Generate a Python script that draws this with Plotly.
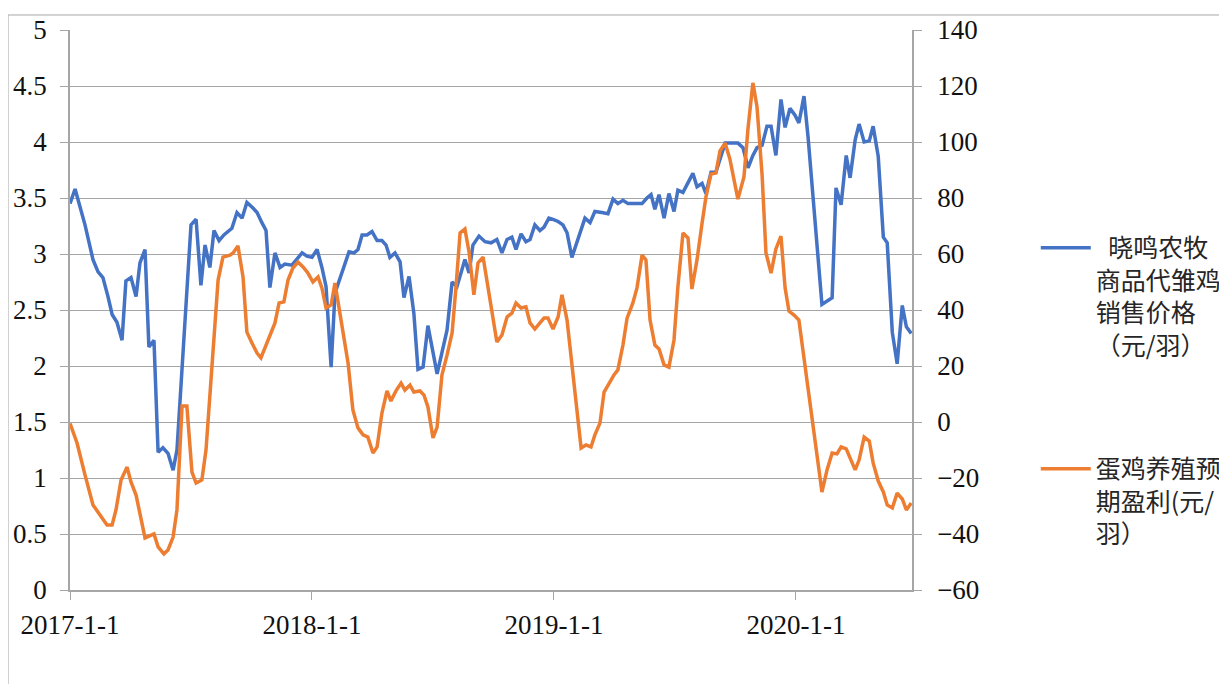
import pandas as pd
import plotly.graph_objects as go

# ---- data (dates as decimal years) ----
price_dates = [
    2017.000, 2017.021, 2017.062, 2017.095, 2017.116, 2017.136, 2017.157, 2017.174, 2017.194, 2017.215,
    2017.231, 2017.252, 2017.273, 2017.289, 2017.310, 2017.326, 2017.347, 2017.364, 2017.384, 2017.405,
    2017.426, 2017.442, 2017.500, 2017.521, 2017.541, 2017.558, 2017.578, 2017.595, 2017.616, 2017.636,
    2017.669, 2017.690, 2017.711, 2017.731, 2017.756, 2017.773, 2017.793, 2017.810, 2017.826, 2017.847,
    2017.868, 2017.888, 2017.917, 2017.938, 2017.959, 2017.979, 2018.000, 2018.021, 2018.041, 2018.058,
    2018.079, 2018.095, 2018.116, 2018.153, 2018.174, 2018.190, 2018.207, 2018.227, 2018.248, 2018.269,
    2018.289, 2018.306, 2018.322, 2018.343, 2018.364, 2018.380, 2018.401, 2018.421, 2018.438, 2018.459,
    2018.479, 2018.500, 2018.517, 2018.537, 2018.558, 2018.579, 2018.599, 2018.632, 2018.649, 2018.665,
    2018.690, 2018.715, 2018.740, 2018.764, 2018.785, 2018.806, 2018.826, 2018.843, 2018.864, 2018.884,
    2018.901, 2018.921, 2018.942, 2018.959, 2018.979, 2018.996, 2019.017, 2019.037, 2019.054, 2019.074,
    2019.099, 2019.128, 2019.149, 2019.169, 2019.198, 2019.223, 2019.244, 2019.264, 2019.285, 2019.306,
    2019.335, 2019.364, 2019.384, 2019.401, 2019.417, 2019.434, 2019.455, 2019.475, 2019.496, 2019.512,
    2019.533, 2019.554, 2019.574, 2019.591, 2019.612, 2019.628, 2019.649, 2019.669, 2019.686, 2019.707,
    2019.727, 2019.760, 2019.781, 2019.802, 2019.822, 2019.839, 2019.860, 2019.880, 2019.897, 2019.917,
    2019.938, 2019.955, 2019.975, 2019.996, 2020.012, 2020.033, 2020.050, 2020.107, 2020.149, 2020.165,
    2020.186, 2020.207, 2020.223, 2020.244, 2020.260, 2020.281, 2020.302, 2020.318, 2020.339, 2020.360,
    2020.376, 2020.397, 2020.417, 2020.438, 2020.455, 2020.475,
]
price_values = [
    3.45, 3.58, 3.26, 2.95, 2.84, 2.79, 2.62, 2.46, 2.39, 2.23,
    2.76, 2.79, 2.62, 2.92, 3.04, 2.17, 2.23, 1.23, 1.27, 1.22,
    1.07, 1.25, 3.26, 3.31, 2.72, 3.08, 2.88, 3.21, 3.12, 3.17,
    3.23, 3.37, 3.32, 3.46, 3.41, 3.37, 3.28, 3.21, 2.70, 3.01,
    2.88, 2.91, 2.90, 2.95, 3.01, 2.98, 2.97, 3.04, 2.88, 2.71,
    1.99, 2.65, 2.79, 3.02, 3.01, 3.04, 3.17, 3.17, 3.20, 3.12,
    3.12, 3.08, 2.97, 3.01, 2.93, 2.61, 2.80, 2.47, 1.97, 1.99,
    2.36, 2.14, 1.93, 2.12, 2.32, 2.75, 2.71, 2.95, 2.83, 3.08,
    3.16, 3.11, 3.10, 3.13, 3.01, 3.13, 3.15, 3.04, 3.18, 3.11,
    3.13, 3.26, 3.21, 3.24, 3.32, 3.31, 3.29, 3.26, 3.19, 2.97,
    3.14, 3.32, 3.28, 3.38, 3.37, 3.36, 3.49, 3.45, 3.48, 3.45,
    3.45, 3.45, 3.50, 3.53, 3.40, 3.53, 3.32, 3.54, 3.38, 3.57,
    3.55, 3.64, 3.72, 3.60, 3.63, 3.54, 3.73, 3.73, 3.84, 3.99,
    3.99, 3.99, 3.95, 3.77, 3.88, 3.95, 3.97, 4.14, 4.14, 3.88,
    4.38, 4.13, 4.30, 4.24, 4.17, 4.41, 4.04, 2.55, 2.61, 3.59,
    3.44, 3.88, 3.68, 4.02, 4.16, 4.00, 4.01, 4.14, 3.87, 3.15,
    3.10, 2.30, 2.02, 2.54, 2.35, 2.29,
]

profit_dates = [
    2017.000, 2017.029, 2017.062, 2017.095, 2017.124, 2017.153, 2017.174, 2017.190, 2017.211, 2017.236,
    2017.252, 2017.273, 2017.310, 2017.331, 2017.347, 2017.364, 2017.388, 2017.405, 2017.426, 2017.442,
    2017.463, 2017.483, 2017.504, 2017.521, 2017.545, 2017.562, 2017.587, 2017.612, 2017.632, 2017.661,
    2017.674, 2017.694, 2017.715, 2017.731, 2017.752, 2017.773, 2017.789, 2017.806, 2017.826, 2017.847,
    2017.864, 2017.884, 2017.901, 2017.921, 2017.942, 2017.963, 2017.983, 2018.004, 2018.025, 2018.041,
    2018.058, 2018.079, 2018.095, 2018.116, 2018.149, 2018.169, 2018.190, 2018.211, 2018.231, 2018.252,
    2018.269, 2018.289, 2018.310, 2018.326, 2018.347, 2018.368, 2018.384, 2018.405, 2018.421, 2018.446,
    2018.463, 2018.479, 2018.500, 2018.517, 2018.537, 2018.558, 2018.579, 2018.595, 2018.612, 2018.632,
    2018.649, 2018.669, 2018.686, 2018.707, 2018.736, 2018.764, 2018.785, 2018.806, 2018.826, 2018.843,
    2018.864, 2018.884, 2018.901, 2018.921, 2018.942, 2018.959, 2018.975, 2018.996, 2019.017, 2019.033,
    2019.054, 2019.074, 2019.095, 2019.112, 2019.132, 2019.153, 2019.169, 2019.190, 2019.207, 2019.227,
    2019.248, 2019.264, 2019.285, 2019.302, 2019.326, 2019.343, 2019.364, 2019.380, 2019.397, 2019.417,
    2019.434, 2019.455, 2019.475, 2019.496, 2019.512, 2019.533, 2019.554, 2019.570, 2019.591, 2019.612,
    2019.628, 2019.649, 2019.669, 2019.686, 2019.707, 2019.727, 2019.744, 2019.760, 2019.785, 2019.802,
    2019.822, 2019.839, 2019.860, 2019.876, 2019.897, 2019.917, 2019.938, 2019.955, 2019.971, 2019.992,
    2020.012, 2020.107, 2020.128, 2020.149, 2020.169, 2020.186, 2020.207, 2020.223, 2020.244, 2020.260,
    2020.281, 2020.302, 2020.318, 2020.339, 2020.360, 2020.376, 2020.397, 2020.417, 2020.438, 2020.455,
    2020.475,
]
profit_values = [
    -0.5, -7.5, -18.9, -29.6, -33.2, -36.8, -36.8, -31.4, -20.7, -16.1,
    -21.4, -26.1, -41.4, -40.7, -40.0, -44.6, -47.1, -45.7, -41.1, -31.4,
    5.7, 5.7, -17.9, -21.8, -20.7, -10.0, 21.1, 50.7, 58.9, 59.6,
    60.4, 62.9, 51.8, 32.1, 28.2, 24.6, 22.9, 26.8, 31.1, 35.4,
    42.5, 42.9, 50.7, 55.0, 57.1, 55.4, 53.2, 50.0, 51.8, 47.9,
    40.7, 41.8, 49.6, 38.9, 21.1, 4.3, -2.1, -4.6, -5.4, -11.1,
    -8.9, 3.2, 11.1, 7.5, 11.1, 13.9, 11.4, 13.2, 10.7, 11.1,
    9.6, 5.4, -5.7, -1.8, 16.8, 23.9, 31.8, 48.2, 67.5, 68.9,
    60.7, 45.4, 56.8, 58.9, 43.6, 28.6, 31.1, 37.5, 38.9, 42.5,
    40.7, 41.1, 35.4, 33.2, 35.4, 37.1, 37.1, 33.2, 37.5, 45.4,
    36.4, 21.4, 4.3, -9.3, -8.2, -8.9, -4.6, -0.4, 10.7, 13.9,
    16.8, 18.6, 27.5, 37.1, 42.5, 47.9, 59.6, 57.9, 36.4, 27.5,
    26.1, 20.4, 19.6, 29.3, 48.2, 67.5, 65.7, 47.5, 57.9, 71.1,
    80.4, 88.6, 88.9, 96.8, 99.6, 93.9, 86.4, 79.6, 87.5, 105.0,
    121.1, 112.5, 88.2, 60.4, 53.2, 61.8, 66.4, 47.9, 39.6, 38.2,
    36.4, -25.0, -17.1, -11.1, -11.4, -8.9, -9.6, -12.9, -17.1, -13.6,
    -5.4, -6.8, -14.6, -21.1, -25.0, -29.6, -30.7, -25.4, -27.5, -31.4,
    -28.9,
]

price_name = "\u2002晓鸣农牧<br>商品代雏鸡<br>销售价格<br>（元/羽）"
profit_name = "蛋鸡养殖预<br>期盈利(元/<br>羽）"

x_tick_vals = ["2017-01-01", "2018-01-01", "2019-01-01", "2020-01-01"]
x_tick_text = ["2017-1-1", "2018-1-1", "2019-1-1", "2020-1-1"]
left_ticks = [0, 0.5, 1, 1.5, 2, 2.5, 3, 3.5, 4, 4.5, 5]
left_tick_text = ["0", "0.5", "1", "1.5", "2", "2.5", "3", "3.5", "4", "4.5", "5"]
right_ticks = [-60, -40, -20, 0, 20, 40, 60, 80, 100, 120, 140]


def to_date(v):
    y = int(v)
    frac = v - y
    days = 366 if (y % 4 == 0) else 365
    return pd.Timestamp(f"{y}-01-01") + pd.Timedelta(days=frac * days)


price_x = [to_date(v) for v in price_dates]
profit_x = [to_date(v) for v in profit_dates]

GRID = "#a6a6a6"
TICKFONT = dict(family="Liberation Serif, Times New Roman, serif", size=27, color="#111111")

fig = go.Figure()
fig.add_trace(go.Scatter(
    x=price_x, y=price_values, name=price_name, mode="lines",
    line=dict(color="#4472C4", width=3.5), yaxis="y", legendgroup="a",
))
fig.add_trace(go.Scatter(
    x=profit_x, y=profit_values, name=profit_name, mode="lines",
    line=dict(color="#ED7D31", width=3.5), yaxis="y2", legendgroup="b",
))

fig.update_layout(
    width=1219, height=676, autosize=False,
    margin=dict(l=62, r=315, t=22, b=94, autoexpand=False),
    paper_bgcolor="white", plot_bgcolor="white",
    xaxis=dict(
        type="date", range=["2017-01-01", "2020-06-24"],
        tickvals=x_tick_vals, ticktext=x_tick_text,
        ticks="outside", ticklen=8, tickcolor=GRID, tickwidth=1.3,
        showline=True, linecolor=GRID, linewidth=1.5,
        showgrid=False, zeroline=False, tickfont=TICKFONT,
        ticklabelstandoff=2, automargin=False,
    ),
    yaxis=dict(
        range=[0, 5], tickvals=left_ticks, ticktext=left_tick_text,
        ticks="outside", ticklen=8, tickcolor=GRID, tickwidth=1.3,
        showline=True, linecolor=GRID, linewidth=1.5,
        showgrid=True, gridcolor=GRID, gridwidth=1.3, zeroline=False,
        tickfont=TICKFONT, ticklabelstandoff=8, automargin=False,
    ),
    yaxis2=dict(
        range=[-60, 140], tickvals=right_ticks,
        overlaying="y", side="right",
        ticks="outside", ticklen=8, tickcolor=GRID, tickwidth=1.3,
        showline=True, linecolor=GRID, linewidth=1.5,
        showgrid=False, zeroline=False,
        tickfont=TICKFONT, ticklabelstandoff=10, automargin=False,
    ),
    legend=dict(
        x=1.147, y=0.652, xanchor="left", yanchor="top",
        valign="top", tracegroupgap=88, itemwidth=50,
        font=dict(family="Noto Sans CJK SC", size=25, color="#262626"),
        bgcolor="rgba(0,0,0,0)",
    ),
    showlegend=True,
    shapes=[dict(
        type="path", xref="paper", yref="paper",
        path="M -0.0736 -0.2 L -0.0736 1.0268 L 1.4 1.0268",
        line=dict(color="#a6a6a6", width=1),
    )],
)

fig.write_html("out.html")
